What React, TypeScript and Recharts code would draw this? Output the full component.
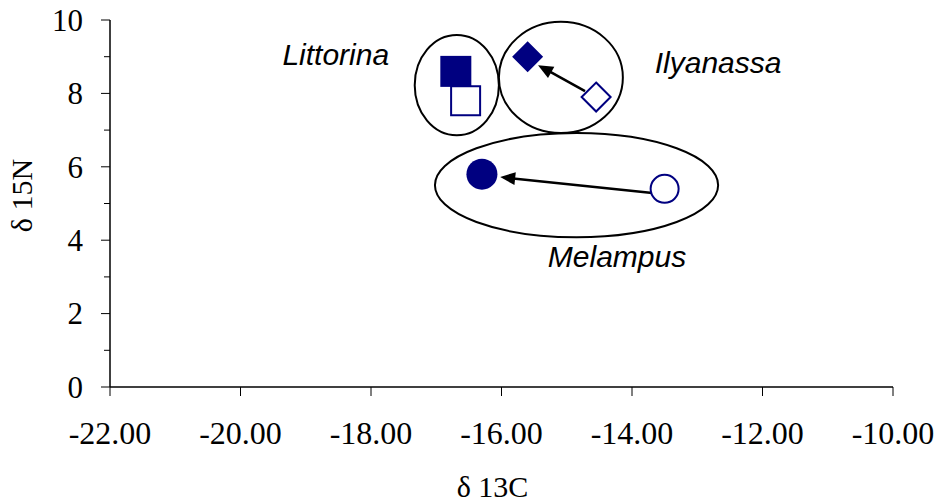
import React from "react";
import {
  ScatterChart,
  Scatter,
  XAxis,
  YAxis,
  ReferenceArea,
  ReferenceLine,
  ReferenceDot,
} from "recharts";

const NAVY = "#000080";
const SERIF = '"Liberation Serif", "Times New Roman", serif';
const SANS = '"Liberation Sans", Arial, sans-serif';

// d13C (x) / d15N (y) per snail, filled and open symbol
const littorinaFilled = [{ x: -16.7, y: 8.6 }];
const littorinaOpen = [{ x: -16.55, y: 7.8 }];
const ilyanassaFilled = [{ x: -15.6, y: 9.0 }];
const ilyanassaOpen = [{ x: -14.55, y: 7.9 }];
const melampusFilled = [{ x: -16.3, y: 5.8 }];
const melampusOpen = [{ x: -13.5, y: 5.4 }];

const xTicks = [-22, -20, -18, -16, -14, -12, -10];
const yTicks = [0, 1, 2, 3, 4, 5, 6, 7, 8, 9, 10];

// circles drawn round each species (data units)
const groupEllipses = [
  { name: "Littorina", x1: -17.33, x2: -16.04, y1: 6.86, y2: 9.59 },
  { name: "Ilyanassa", x1: -16.04, x2: -14.14, y1: 6.92, y2: 9.95 },
  { name: "Melampus", x1: -17.02, x2: -12.68, y1: 4.08, y2: 6.92 },
];

// open -> filled shift arrows
const shiftArrows = [
  { name: "Ilyanassa", from: { x: -14.72, y: 8.06 }, to: { x: -15.44, y: 8.77 } },
  { name: "Melampus", from: { x: -13.65, y: 5.28 }, to: { x: -16.02, y: 5.72 } },
];

const speciesLabels = [
  { name: "Littorina", x: -18.54, y: 8.77 },
  { name: "Ilyanassa", x: -12.68, y: 8.55 },
  { name: "Melampus", x: -14.23, y: 3.26 },
];

const square = (filled: boolean) => (props: any) => {
  const { cx, cy } = props;
  const h = filled ? 15.5 : 14.5;
  return (
    <rect
      x={cx - h}
      y={cy - h}
      width={h * 2}
      height={h * 2}
      fill={filled ? NAVY : "#fff"}
      stroke={NAVY}
      strokeWidth={filled ? 0 : 2}
    />
  );
};

const diamond = (filled: boolean) => (props: any) => {
  const { cx, cy } = props;
  const h = filled ? 15.5 : 14.5;
  return (
    <polygon
      points={`${cx},${cy - h} ${cx + h},${cy} ${cx},${cy + h} ${cx - h},${cy}`}
      fill={filled ? NAVY : "#fff"}
      stroke={NAVY}
      strokeWidth={filled ? 0 : 2}
    />
  );
};

const circle = (filled: boolean) => (props: any) => {
  const { cx, cy } = props;
  return (
    <circle
      cx={cx}
      cy={cy}
      r={filled ? 15.5 : 14}
      fill={filled ? NAVY : "#fff"}
      stroke={NAVY}
      strokeWidth={filled ? 0 : 2}
    />
  );
};

const EllipseShape = (props: any) => {
  const { x, y, width, height } = props;
  return (
    <ellipse
      cx={x + width / 2}
      cy={y + height / 2}
      rx={Math.abs(width) / 2}
      ry={Math.abs(height) / 2}
      fill="none"
      stroke="#000"
      strokeWidth={2}
    />
  );
};

const ArrowShape = (props: any) => {
  const { x1, y1, x2, y2 } = props;
  const len = Math.hypot(x2 - x1, y2 - y1) || 1;
  const ux = (x2 - x1) / len;
  const uy = (y2 - y1) / len;
  const head = 15;
  const half = 6.5;
  const bx = x2 - ux * head;
  const by = y2 - uy * head;
  return (
    <g>
      <line x1={x1} y1={y1} x2={bx + ux * 2} y2={by + uy * 2} stroke="#000" strokeWidth={2.5} />
      <polygon
        points={`${x2},${y2} ${bx - uy * half},${by + ux * half} ${bx + uy * half},${by - ux * half}`}
        fill="#000"
      />
    </g>
  );
};

const Y_TICK_SIZE = 9;
const Y_TICK_MARGIN = 18;

const YTick = (props: any) => {
  const { x, y, payload } = props;
  const major = payload.value % 2 === 0;
  const axisX = x + Y_TICK_MARGIN + Y_TICK_SIZE;
  return (
    <g>
      <line
        x1={axisX - (major ? Y_TICK_SIZE : 6)}
        x2={axisX}
        y1={y}
        y2={y}
        stroke="#000"
        strokeWidth={1}
      />
      {major && (
        <text x={x} y={y} dy="0.35em" textAnchor="end" fontSize={31} fontFamily={SERIF} fill="#000">
          {payload.value}
        </text>
      )}
    </g>
  );
};

export default function App() {
  return (
    <div style={{ position: "absolute", left: 0, top: 0, background: "#fff" }}>
      <ScatterChart width={938} height={504} margin={{ top: 20, right: 45, bottom: 0, left: 0 }}>
        <XAxis
          type="number"
          dataKey="x"
          domain={[-22, -10]}
          ticks={xTicks}
          interval={0}
          allowDataOverflow
          tickFormatter={(v: number) => v.toFixed(2)}
          height={117}
          tickSize={9}
          tickMargin={25}
          axisLine={{ stroke: "#000", strokeWidth: 1.5 }}
          tickLine={{ stroke: "#000", strokeWidth: 1 }}
          tick={{ fill: "#000", fontSize: 32, fontFamily: SERIF }}
          label={{
            content: (p: any) => {
              const vb = p.viewBox;
              return (
                <text
                  x={vb.x + vb.width / 2 - 9}
                  y={vb.y + vb.height - 7}
                  textAnchor="middle"
                  fontSize={30}
                  fontFamily={SERIF}
                  fill="#000"
                >
                  δ 13C
                </text>
              );
            },
          }}
        />
        <YAxis
          type="number"
          dataKey="y"
          domain={[0, 10]}
          ticks={yTicks}
          interval={0}
          allowDataOverflow
          width={110}
          tickSize={Y_TICK_SIZE}
          tickMargin={Y_TICK_MARGIN}
          axisLine={{ stroke: "#000", strokeWidth: 1.5 }}
          tickLine={false}
          tick={<YTick />}
          label={{
            content: (p: any) => {
              const vb = p.viewBox;
              const lx = vb.x + 32;
              const ly = vb.y + vb.height / 2 - 8;
              return (
                <text
                  x={lx}
                  y={ly}
                  transform={`rotate(-90, ${lx}, ${ly})`}
                  textAnchor="middle"
                  fontSize={30}
                  fontFamily={SERIF}
                  fill="#000"
                >
                  δ 15N
                </text>
              );
            },
          }}
        />

        {groupEllipses.map((e) => (
          <ReferenceArea
            key={e.name}
            x1={e.x1}
            x2={e.x2}
            y1={e.y1}
            y2={e.y2}
            ifOverflow="visible"
            shape={(p: any) => <EllipseShape {...p} />}
          />
        ))}

        {shiftArrows.map((a) => (
          <ReferenceLine
            key={a.name}
            segment={[a.from, a.to]}
            ifOverflow="visible"
            shape={(p: any) => <ArrowShape {...p} />}
          />
        ))}

        <Scatter data={littorinaFilled} shape={square(true)} isAnimationActive={false} />
        <Scatter data={littorinaOpen} shape={square(false)} isAnimationActive={false} />
        <Scatter data={ilyanassaFilled} shape={diamond(true)} isAnimationActive={false} />
        <Scatter data={ilyanassaOpen} shape={diamond(false)} isAnimationActive={false} />
        <Scatter data={melampusFilled} shape={circle(true)} isAnimationActive={false} />
        <Scatter data={melampusOpen} shape={circle(false)} isAnimationActive={false} />

        {speciesLabels.map((l) => (
          <ReferenceDot
            key={l.name}
            x={l.x}
            y={l.y}
            r={0}
            ifOverflow="visible"
            shape={(p: any) => (
              <text
                x={p.cx}
                y={p.cy}
                textAnchor="middle"
                fontSize={30}
                fontStyle="italic"
                fontFamily={SANS}
                fill="#000"
              >
                {l.name}
              </text>
            )}
          />
        ))}
      </ScatterChart>
    </div>
  );
}
